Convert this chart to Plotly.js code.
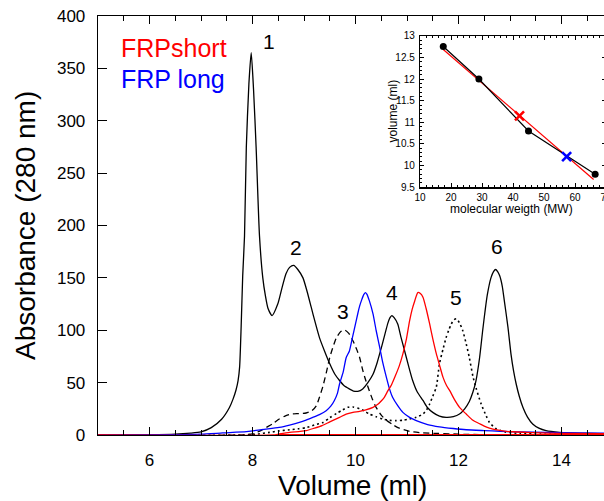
<!DOCTYPE html>
<html><head><meta charset="utf-8">
<script src="https://cdn.plot.ly/plotly-3.0.1.min.js"></script>
<style>html,body{margin:0;padding:0;overflow:hidden;background:#fff}#chart{width:620px;height:501px}</style>
</head><body><div id="chart"></div>
<script>
// ---- main chromatogram (Volume ml vs Absorbance 280 nm) ----
const volStd = [5.0, 6.0, 6.5, 6.8, 7.0, 7.2, 7.4, 7.55, 7.62, 7.68, 7.72, 7.75, 7.78, 7.81, 7.845, 7.88, 7.93, 7.975, 8.02, 8.07, 8.136, 8.2, 8.25, 8.30, 8.38, 8.49, 8.57, 8.65, 8.72, 8.80, 8.88, 8.98, 9.06, 9.14, 9.22, 9.30, 9.40, 9.50, 9.60, 9.69, 9.78, 9.88, 9.96, 10.045, 10.14, 10.24, 10.34, 10.42, 10.50, 10.57, 10.63, 10.67, 10.705, 10.75, 10.82, 10.88, 10.95, 11.03, 11.11, 11.2, 11.31, 11.40, 11.50, 11.63, 11.76, 11.9, 12.02, 12.12, 12.21, 12.28, 12.34, 12.41, 12.47, 12.52, 12.56, 12.63, 12.68, 12.72, 12.76, 12.80, 12.85, 12.89, 12.96, 13.02, 13.07, 13.12, 13.18, 13.25, 13.34, 13.44, 13.56, 13.70, 13.96, 14.5, 15.0];
const absStd = [0, 0.3, 0.8, 1.8, 3, 7, 15, 26, 34, 43, 52, 65, 104, 152, 190, 275, 335, 365, 330, 275, 190, 150, 133, 121, 114, 125, 140, 154, 160, 162, 158, 150, 137, 122, 107, 93, 80, 68, 58, 52, 47, 44, 42, 41.7, 44, 50, 58, 69, 83, 96, 107, 112, 114, 112, 106, 94, 81, 66, 52, 41, 33, 26, 21.6, 18, 16.8, 17.5, 20, 25, 32, 41, 52, 74, 100, 120, 134, 150, 156, 158, 156, 152, 142, 128, 103, 77, 61, 48.7, 37, 26.4, 17, 10.5, 6.5, 4.1, 2.5, 1.5, 1.2];

const volPeak3 = [5.0, 7.8, 8.0, 8.15, 8.27, 8.4, 8.52, 8.65, 8.75, 8.9, 9.04, 9.15, 9.24, 9.30, 9.37, 9.44, 9.50, 9.57, 9.63, 9.72, 9.79, 9.87, 9.95, 10.02, 10.08, 10.14, 10.2, 10.27, 10.33, 10.40, 10.50, 10.60, 10.72, 10.85, 11.05, 11.3, 11.6, 12.0, 12.5, 13.0, 15.0];
const absPeak3 = [0, 0, 1, 4, 7.3, 11, 15.3, 18.5, 20, 20.5, 21, 23, 28, 36, 47, 61, 74, 85, 93, 99, 100.3, 97, 90, 82, 74, 62, 52, 42, 34, 26.4, 19, 14, 10, 6.5, 3.5, 2, 1.5, 0.8, 0.3, 0, 0];

const volPeak5 = [5.0, 7.8, 8.1, 8.33, 8.5, 8.72, 8.9, 9.04, 9.2, 9.37, 9.50, 9.63, 9.75, 9.85, 9.95, 10.08, 10.17, 10.27, 10.4, 10.53, 10.66, 10.79, 10.92, 11.05, 11.18, 11.31, 11.38, 11.44, 11.50, 11.57, 11.63, 11.70, 11.76, 11.81, 11.86, 11.91, 11.96, 12.02, 12.08, 12.15, 12.21, 12.28, 12.34, 12.44, 12.54, 12.60, 12.73, 12.9, 13.2, 13.6, 14.2, 15.0];
const absPeak5 = [0, 0, 1, 2.5, 3.8, 5, 6, 7, 9.5, 12, 16.5, 20.5, 24, 26.4, 26.8, 25, 23, 20, 17.5, 15.3, 14, 13.7, 14, 15.3, 17, 20, 24, 29.6, 37, 46, 68, 82, 93, 100, 106, 110, 111, 107, 100, 87, 74, 56, 45, 29.6, 18, 12, 6, 3, 1.5, 0.8, 0.3, 0];

const volLong = [5.0, 6.5, 7.0, 7.42, 7.88, 8.07, 8.3, 8.52, 8.72, 8.91, 9.04, 9.17, 9.3, 9.43, 9.52, 9.59, 9.65, 9.69, 9.76, 9.82, 9.88, 9.94, 10.0, 10.045, 10.08, 10.12, 10.16, 10.19, 10.22, 10.27, 10.34, 10.40, 10.47, 10.53, 10.60, 10.66, 10.72, 10.82, 10.92, 11.05, 11.18, 11.4, 11.63, 11.9, 12.15, 12.5, 12.80, 13.2, 13.70, 14.3, 15.0];
const absLong = [0, 0.3, 0.8, 2, 3.2, 4.5, 5.8, 7.3, 9.5, 12, 14.2, 16.8, 19.5, 23.2, 27.5, 33, 40, 48.7, 60, 74, 80, 93, 106, 116, 123, 129, 134, 136, 134.5, 128, 115.6, 100, 83.7, 69, 55, 44, 36, 28, 21.6, 16.8, 13.7, 10, 7.8, 6.2, 5, 4.2, 3.6, 3, 2.5, 2, 1.6];

const volShort = [5.0, 8.4, 8.52, 8.72, 8.9, 9.04, 9.2, 9.35, 9.50, 9.69, 9.82, 9.95, 10.08, 10.2, 10.34, 10.44, 10.50, 10.56, 10.63, 10.70, 10.77, 10.85, 10.92, 10.99, 11.05, 11.10, 11.15, 11.21, 11.26, 11.31, 11.37, 11.44, 11.50, 11.57, 11.63, 11.70, 11.77, 11.83, 11.92, 12.02, 12.15, 12.28, 12.40, 12.5, 12.6, 12.93, 13.44, 14.0, 15.0];
const absShort = [0, 0, 1, 2.5, 3.3, 4.1, 6.5, 9, 12.5, 16.8, 20, 21.6, 22.6, 24, 26.4, 29.5, 32.5, 36, 42.3, 48, 56, 66, 77.4, 92, 109, 120, 128, 136, 135, 131.5, 121, 106, 92, 77.4, 67, 55, 47, 42.3, 34, 26.4, 20, 14, 11, 8.5, 6.5, 3.5, 2.2, 1.5, 1.2];

const volBase = [8.5, 15.0];
const absBase = [0, 0];

const peakNames = ['1', '2', '3', '4', '5', '6'];
const peakVol = [8.32, 8.835, 9.75, 10.705, 11.955, 12.74];
const peakAbs = [376, 178.7, 118, 136, 131.5, 180];

// ---- inset calibration (molecular weight vs elution volume) ----
const mwStd = [17.5, 29, 45, 66.5];
const veStd = [12.75, 12.0, 10.8, 9.8];
const mwFit = [17.5, 66];
const veFit = [12.68, 9.68];
const mwShort = [42.1];
const veShort = [11.15];
const mwLong = [57.3];
const veLong = [10.21];

const FONT = 'Liberation Sans, Arial, Helvetica, sans-serif';
const RED = '#ff0000', BLUE = '#0000ff';

const traces = [
  {x: volStd, y: absStd, mode: 'lines', line: {color: '#000', width: 1.3, shape: 'spline', smoothing: 0.6}},
  {x: volPeak3, y: absPeak3, mode: 'lines', line: {color: '#000', width: 1.3, dash: '6px,4px', shape: 'spline', smoothing: 0.6}},
  {x: volPeak5, y: absPeak5, mode: 'lines', line: {color: '#000', width: 1.6, dash: '2px,3px', shape: 'spline', smoothing: 0.6}},
  {x: volLong, y: absLong, mode: 'lines', line: {color: BLUE, width: 1.3, shape: 'spline', smoothing: 0.6}},
  {x: volShort, y: absShort, mode: 'lines', line: {color: RED, width: 1.3, shape: 'spline', smoothing: 0.6}},
  {x: volBase, y: absBase, mode: 'lines', line: {color: RED, width: 2.2}},
  {x: mwFit, y: veFit, xaxis: 'x2', yaxis: 'y2', mode: 'lines', line: {color: RED, width: 1.2}},
  {x: mwStd, y: veStd, xaxis: 'x2', yaxis: 'y2', mode: 'lines+markers', line: {color: '#000', width: 1.2}, marker: {color: '#000', size: 7}},
  {x: mwShort, y: veShort, xaxis: 'x2', yaxis: 'y2', mode: 'markers', marker: {symbol: 'x-thin-open', size: 9, color: RED, line: {color: RED, width: 2.6}}},
  {x: mwLong, y: veLong, xaxis: 'x2', yaxis: 'y2', mode: 'markers', marker: {symbol: 'x-thin-open', size: 9, color: BLUE, line: {color: BLUE, width: 2.6}}}
];
traces.forEach(t => { t.showlegend = false; t.hoverinfo = 'skip'; });

const W = 515, H = 419, L = 98, T = 16;
const px = v => (v - L) / W;
const py = v => (T + H - v) / H;

const annotations = [
  {text: 'Volume (ml)', xref: 'paper', yref: 'paper', x: px(352), y: 0, yshift: -50, xanchor: 'center', yanchor: 'middle', showarrow: false, font: {family: FONT, size: 28, color: '#000'}},
  {text: 'Absorbance (280 nm)', xref: 'paper', yref: 'paper', x: px(25), y: py(226), textangle: -90, xanchor: 'center', yanchor: 'middle', showarrow: false, font: {family: FONT, size: 28, color: '#000'}},
  {text: 'FRPshort', xref: 'paper', yref: 'paper', x: px(119), y: py(48), xanchor: 'left', yanchor: 'middle', showarrow: false, font: {family: FONT, size: 25, color: RED}},
  {text: 'FRP long', xref: 'paper', yref: 'paper', x: px(119), y: py(78.5), xanchor: 'left', yanchor: 'middle', showarrow: false, font: {family: FONT, size: 25, color: BLUE}},
  {text: 'molecular weigth (MW)', xref: 'paper', yref: 'paper', x: px(511), y: py(209), xanchor: 'center', yanchor: 'middle', showarrow: false, borderpad: 0, font: {family: FONT, size: 12, color: '#000'}},
  {text: 'volume (ml)', xref: 'paper', yref: 'paper', x: px(392.5), y: py(111), textangle: -90, xanchor: 'center', yanchor: 'middle', showarrow: false, font: {family: FONT, size: 12, color: '#000'}}
];
peakNames.forEach((n, i) => annotations.push({text: n, x: peakVol[i], y: peakAbs[i], xref: 'x', yref: 'y', xanchor: 'center', yanchor: 'middle', showarrow: false, font: {family: FONT, size: 21, color: '#000'}}));

const layout = {
  width: 620, height: 501,
  margin: {l: L, r: 620 - L - W, t: T, b: 501 - T - H, pad: 0},
  paper_bgcolor: '#fff', plot_bgcolor: 'rgba(0,0,0,0)',
  font: {family: FONT, color: '#000'},
  showlegend: false,
  xaxis: {range: [5, 15], domain: [0, 1], tick0: 0, dtick: 2, ticks: 'inside', ticklen: 8, tickwidth: 1.2, tickcolor: '#000',
    showline: true, linecolor: '#000', linewidth: 1.3, mirror: 'ticks', showgrid: false, zeroline: false,
    minor: {dtick: 0.5, tick0: 0, ticks: 'inside', ticklen: 5, tickwidth: 1, tickcolor: '#000', showgrid: false},
    tickfont: {family: FONT, size: 17, color: '#000'}, ticklabelstandoff: 9},
  yaxis: {range: [0, 400], domain: [0, 1], tick0: 0, dtick: 50, ticks: 'inside', ticklen: 9, tickwidth: 1.2, tickcolor: '#000',
    showline: true, linecolor: '#000', linewidth: 1.3, mirror: 'ticks', showgrid: false, zeroline: false,
    tickfont: {family: FONT, size: 17, color: '#000'}, ticklabelstandoff: 8},
  xaxis2: {anchor: 'y2', domain: [px(420), px(606)], range: [10, 70], tick0: 0, dtick: 10, ticks: 'inside', ticklen: 4, tickwidth: 1, tickcolor: '#000',
    showline: true, linecolor: '#000', linewidth: 1.2, mirror: 'ticks', showgrid: false, zeroline: false,
    minor: {dtick: 2, ticks: 'inside', ticklen: 2, tickwidth: 1, tickcolor: '#000', showgrid: false},
    tickfont: {family: FONT, size: 10, color: '#000'}, ticklabelstandoff: 0},
  yaxis2: {anchor: 'x2', domain: [py(187.3), py(35.7)], range: [9.5, 13], tick0: 0, dtick: 0.5, ticks: 'inside', ticklen: 4, tickwidth: 1, tickcolor: '#000',
    showline: true, linecolor: '#000', linewidth: 1.2, mirror: 'ticks', showgrid: false, zeroline: false,
    minor: {dtick: 0.1, ticks: 'inside', ticklen: 2, tickwidth: 1, tickcolor: '#000', showgrid: false},
    tickfont: {family: FONT, size: 10, color: '#000'}, ticklabelstandoff: 2},
  annotations: annotations
};

Plotly.newPlot('chart', traces, layout, {staticPlot: true, displayModeBar: false});
</script></body></html>
